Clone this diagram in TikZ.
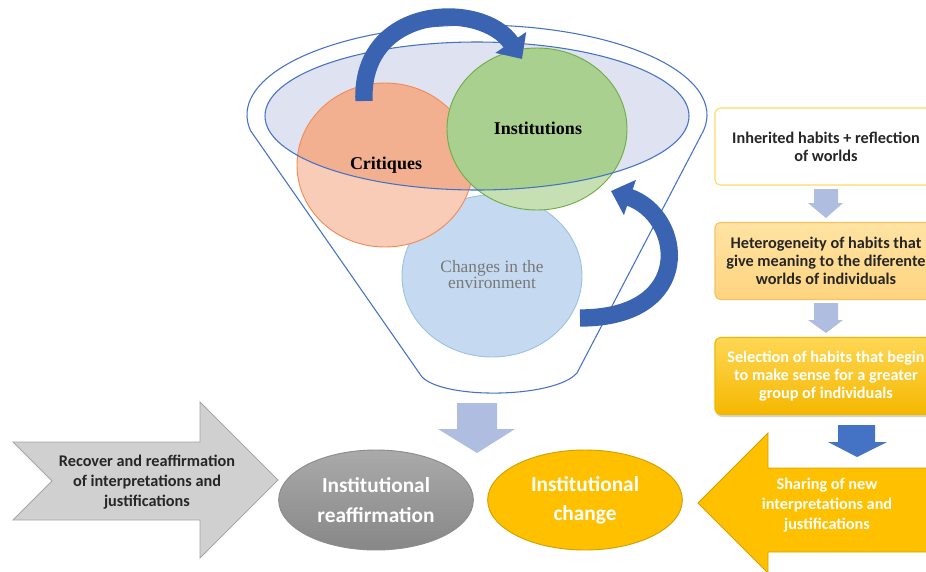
\documentclass[tikz,border=0pt]{standalone}
\usepackage{fontspec}
\setmainfont{Carlito}
\newfontfamily\serifb{Liberation Serif}
\usetikzlibrary{arrows.meta,shapes.geometric,shadows}
\definecolor{funblue}{RGB}{68,114,196}
\definecolor{lav}{RGB}{222,226,241}
\definecolor{critlight}{RGB}{248,204,182}
\definecolor{critdark}{RGB}{243,176,144}
\definecolor{critborder}{RGB}{240,140,90}
\definecolor{instlight}{RGB}{198,224,180}
\definecolor{instdark}{RGB}{169,208,142}
\definecolor{instborder}{RGB}{112,173,71}
\definecolor{envfill}{RGB}{197,217,240}
\definecolor{envborder}{RGB}{157,195,230}
\definecolor{arcblue}{RGB}{58,100,178}
\definecolor{lavarrow}{RGB}{175,189,224}
\definecolor{gold}{RGB}{255,192,0}
\definecolor{goldborder}{RGB}{210,160,0}
\definecolor{greyfill}{RGB}{208,208,208}
\definecolor{greyborder}{RGB}{165,165,165}
\definecolor{txtdark}{RGB}{38,38,38}
\tikzset{
  outline/.style={draw=funblue,line width=0.8pt},
  arcarrow/.style={draw=arcblue,line width=13pt,-{Triangle[width=27pt,length=15pt]}},
  blockarrow/.style={fill=lavarrow},
  colbox/.style={rounded corners=4pt,minimum width=166.5pt,minimum height=57.75pt,
    align=center,font=\bfseries\fontsize{12.2}{13.5}\selectfont,line width=0.8pt},
  ovalnode/.style={ellipse,minimum width=146pt,minimum height=75pt,inner sep=0pt,
    align=center,text=white,font=\bfseries\fontsize{16}{22}\selectfont,line width=0.7pt},
  arrowtext/.style={align=center,font=\bfseries\fontsize{12.2}{15}\selectfont},
  circlabel/.style={font=\serifb\bfseries\fontsize{13.5}{14}\selectfont,text=black}
}
\begin{document}
\begin{tikzpicture}[x=0.75pt,y=-0.75pt]
\useasboundingbox (0,0) rectangle (926,572);
\clip (0,0) rectangle (926,572);

% funnel outline
\draw[outline] (250.5,130.6) arc[start angle=170,end angle=370,x radius=230,y radius=90]
  -- (577,373) .. controls (555,398) and (445,400) .. (422,377) -- cycle;
% inner ellipse fill
\fill[lav] (477,116) ellipse[x radius=212,y radius=74];

% environment circle
\fill[envfill] (492,276) ellipse[x radius=90,y radius=81];
\draw[envborder,line width=0.7pt] (492,276) ellipse[x radius=90,y radius=81];
% critiques circle
\fill[critlight] (385,165) ellipse[x radius=88,y radius=82];
\begin{scope}
  \clip (477,116) ellipse[x radius=212,y radius=74];
  \fill[critdark] (385,165) ellipse[x radius=88,y radius=82];
\end{scope}
\draw[critborder,line width=0.7pt] (385,165) ellipse[x radius=88,y radius=82];
% institutions circle
\fill[instlight] (537,129) ellipse[x radius=90,y radius=81];
\begin{scope}
  \clip (477,116) ellipse[x radius=212,y radius=74];
  \fill[instdark] (537,129) ellipse[x radius=90,y radius=81];
\end{scope}
\draw[instborder,line width=0.7pt] (537,129) ellipse[x radius=90,y radius=81];
% inner ellipse border
\draw[outline] (477,116) ellipse[x radius=212,y radius=74];

% circle labels
\node[circlabel] (critlab) at (386,165) {Critiques};
\node[circlabel] (instlab) at (538,128) {Institutions};
\node[font=\serifb\fontsize{13}{12}\selectfont,text={rgb,255:red,120;green,120;blue,120},align=center] (envlab) at (492,275) {Changes in the\\environment};

% curved arrows
\coordinate (a1s) at (364,101);
\coordinate (a1e) at (522,59);
\draw[arcarrow] (a1s) .. controls (360,4) and (482,0) .. (a1e);
\coordinate (a2s) at (580,318);
\coordinate (a2e) at (611,191);
\draw[arcarrow] (a2s) .. controls (696,318) and (684,216) .. (a2e);

% funnel down arrow
\fill[blockarrow] (457,403) -- (497,403) -- (497,429) -- (515,429) -- (477,453) -- (438,429) -- (457,429) -- cycle;

% right column
\node[colbox,draw={rgb,255:red,255;green,217;blue,102},fill=white,text=txtdark] (b1) at (826,146.5) {Inherited habits + reflection\\of worlds};
\node[colbox,draw={rgb,255:red,246;green,195;blue,92},top color={rgb,255:red,255;green,227;blue,163},bottom color={rgb,255:red,255;green,212;blue,127},text=txtdark] (b2) at (826,261) {Heterogeneity of habits that\\give meaning to the diferente\\worlds of individuals};
\node[colbox,draw={rgb,255:red,240;green,184;blue,0},top color={rgb,255:red,255;green,215;blue,85},bottom color={rgb,255:red,245;green,184;blue,0},text=white,drop shadow={shadow xshift=1pt,shadow yshift=-2pt,opacity=0.35}] (b3) at (826,376) {Selection of habits that begin\\to make sense for a greater\\group of individuals};

\fill[blockarrow] (814,189) -- (838,189) -- (838,203) -- (843,203) -- (826,218) -- (808,203) -- (814,203) -- cycle;
\fill[blockarrow] (814,303) -- (838,303) -- (838,320) -- (843,320) -- (826,333) -- (808,320) -- (814,320) -- cycle;
\fill[funblue] (838,425) -- (875,425) -- (875,442) -- (887,442) -- (857,457) -- (828,442) -- (838,442) -- cycle;

% grey arrow
\draw[fill=greyfill,draw=greyborder,line width=0.7pt] (13,442) -- (200,442) -- (200,402) -- (278,480) -- (200,558) -- (200,520) -- (13,520) -- (52,481) -- cycle;
\node[arrowtext,text=txtdark] (recover) at (147,482) {Recover and reaffirmation\\of interpretations and\\justifications};

% yellow arrow
\draw[fill=gold,draw=goldborder,line width=0.7pt] (940,468) -- (768,468) -- (768,433) -- (698,503) -- (768,573) -- (768,552) -- (940,552) -- cycle;
\node[arrowtext,text=white] (sharing) at (827,505) {Sharing of new\\interpretations and\\justifications};

% bottom ovals
\node[ovalnode,draw={rgb,255:red,140;green,140;blue,140},top color={rgb,255:red,170;green,170;blue,170},bottom color={rgb,255:red,135;green,135;blue,135}] (reaff) at (376,500) {Institutional\\reaffirmation};
\node[ovalnode,draw=goldborder,fill=gold] (change) at (585,500) {Institutional\\change};
\end{tikzpicture}
\end{document}
